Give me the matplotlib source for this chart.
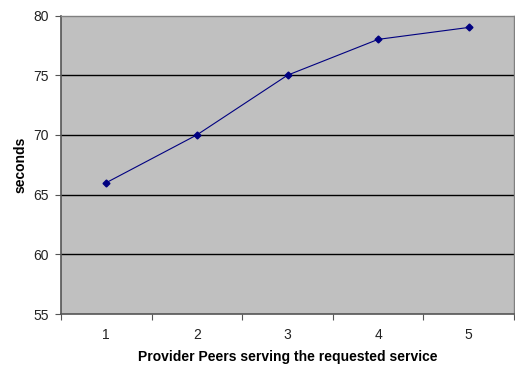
import matplotlib
matplotlib.use("Agg")
import matplotlib.pyplot as plt
from matplotlib.ticker import FixedLocator, NullFormatter

plt.rcParams['font.family'] = ['Liberation Sans', 'DejaVu Sans']

peers = [1, 2, 3, 4, 5]
seconds = [66, 70, 75, 78, 79]
y_ticks = [55, 60, 65, 70, 75, 80]

fig = plt.figure(figsize=(5.15, 3.65), dpi=100)
ax = fig.add_axes([61 / 515, 51 / 365, 453 / 515, 298.5 / 365])
ax.set_facecolor('#c0c0c0')

ax.plot(peers, seconds, color='#000080', lw=0.8, marker='D', ms=3.5,
        mfc='#000080', mec='#000080', zorder=3)

ax.set_xlim(0.5, 5.5)
ax.set_ylim(55, 80)
ax.set_yticks(y_ticks)
for y in y_ticks[1:-1]:
    ax.axhline(y, color='black', lw=1, zorder=1)

# category boundaries carry the tick marks, labels sit in the middle
ax.xaxis.set_major_locator(FixedLocator([0.5, 1.5, 2.5, 3.5, 4.5, 5.5]))
ax.xaxis.set_major_formatter(NullFormatter())
ax.xaxis.set_minor_locator(FixedLocator(peers))
ax.set_xticklabels([str(p) for p in peers], minor=True)
ax.tick_params(axis='x', which='minor', length=0, pad=10, labelsize=10, colors='#222222')
ax.tick_params(axis='x', which='major', length=4, color='#555555', direction='out')
ax.tick_params(axis='y', length=4, color='#555555', labelsize=10, labelcolor='#222222', pad=5)

for side in ['left', 'bottom']:
    ax.spines[side].set_color('#555555')
    ax.spines[side].set_linewidth(1.2)
for side in ['top', 'right']:
    ax.spines[side].set_color('#808080')
    ax.spines[side].set_linewidth(1)

ax.set_xlabel('Provider Peers serving the requested service', fontsize=10, fontweight='bold', labelpad=6)
ax.set_ylabel('seconds', fontsize=10, fontweight='bold', labelpad=4)

fig.savefig('out.png', dpi=100)
